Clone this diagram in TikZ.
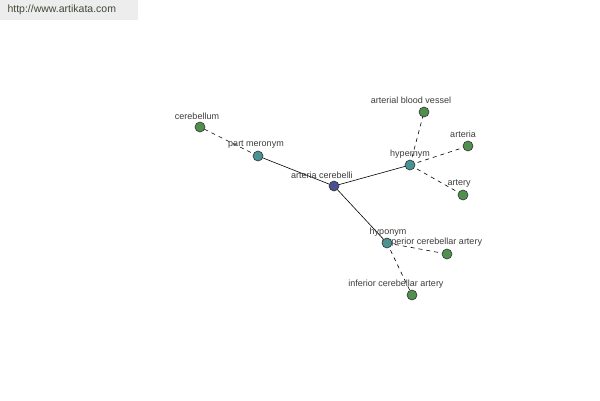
\documentclass[tikz,border=0pt]{standalone}
\usepackage{fontspec}
\setmainfont{Liberation Sans}
\usepackage{xcolor}
\usetikzlibrary{positioning,calc}

\definecolor{rootblue}{HTML}{4B4F92}
\definecolor{relteal}{HTML}{4A9394}
\definecolor{leafgreen}{HTML}{518F4E}
\definecolor{labelgray}{HTML}{3C3C3C}
\definecolor{urlgray}{HTML}{3F4A36}

\begin{document}
\begin{tikzpicture}[
    x=1pt, y=-1pt,
    dot/.style={circle, draw=black!80, line width=0.6pt, minimum size=10pt, inner sep=0pt},
    rootdot/.style={dot, fill=rootblue},
    reldot/.style={dot, fill=relteal},
    leafdot/.style={dot, fill=leafgreen},
    lbl/.style={font=\fontsize{9}{10}\selectfont, text=labelgray, inner sep=0.5pt},
    solidedge/.style={draw=black, line width=0.6pt},
    dashedge/.style={draw=black, line width=0.6pt, dash pattern=on 4pt off 4pt}
]
    \useasboundingbox [fill=white] (0,0) rectangle (600,400);

    % header
    \fill [black!7] (0,0) rectangle (138,20);
    \node [anchor=west, font=\fontsize{10.5}{12}\selectfont, text=urlgray] (url) at (4,10) {http://www.artikata.com};

    % edges first, nodes drawn on top
    \coordinate (pRoot) at (334,186);
    \coordinate (pMer) at (258,156);
    \coordinate (pHyper) at (410,165);
    \coordinate (pHypo) at (387,243);

    \draw [solidedge] (pRoot) -- (pMer);
    \draw [solidedge] (pRoot) -- (pHyper);
    \draw [solidedge] (pRoot) -- (pHypo);

    \coordinate (pCereb) at (200,127);
    \coordinate (pVessel) at (424,112);
    \coordinate (pArteria) at (468,146);
    \coordinate (pArtery) at (463,195);
    \coordinate (pSup) at (447,254);
    \coordinate (pInf) at (412,295);

    \draw [dashedge] (pMer) -- (pCereb);
    \draw [dashedge] (pHyper) -- (pVessel);
    \draw [dashedge] (pHyper) -- (pArteria);
    \draw [dashedge] (pHyper) -- (pArtery);
    \draw [dashedge] (pHypo) -- (pSup);
    \draw [dashedge] (pHypo) -- (pInf);

    % labels
    \node [lbl] (tRoot) at (322,175) {arteria cerebelli};
    \node [lbl] (tMer) at (256,145) {part meronym};
    \node [lbl] (tHyper) at (410,154) {hypernym};
    \node [lbl] (tHypo) at (388,232) {hyponym};
    \node [lbl] (tCereb) at (197,116) {cerebellum};
    \node [lbl] (tVessel) at (411,100) {arterial blood vessel};
    \node [lbl] (tArteria) at (463,134) {arteria};
    \node [lbl] (tArtery) at (459,184) {artery};
    \node [lbl] (tSup) at (432,242) {superior cerebellar artery};
    \node [lbl] (tInf) at (396,284) {inferior cerebellar artery};

    % nodes
    \node [rootdot] (root) at (pRoot) {};
    \node [reldot] (mer) at (pMer) {};
    \node [reldot] (hyper) at (pHyper) {};
    \node [reldot] (hypo) at (pHypo) {};
    \node [leafdot] (cereb) at (pCereb) {};
    \node [leafdot] (vessel) at (pVessel) {};
    \node [leafdot] (arteria) at (pArteria) {};
    \node [leafdot] (artery) at (pArtery) {};
    \node [leafdot] (sup) at (pSup) {};
    \node [leafdot] (inf) at (pInf) {};
\end{tikzpicture}
\end{document}
